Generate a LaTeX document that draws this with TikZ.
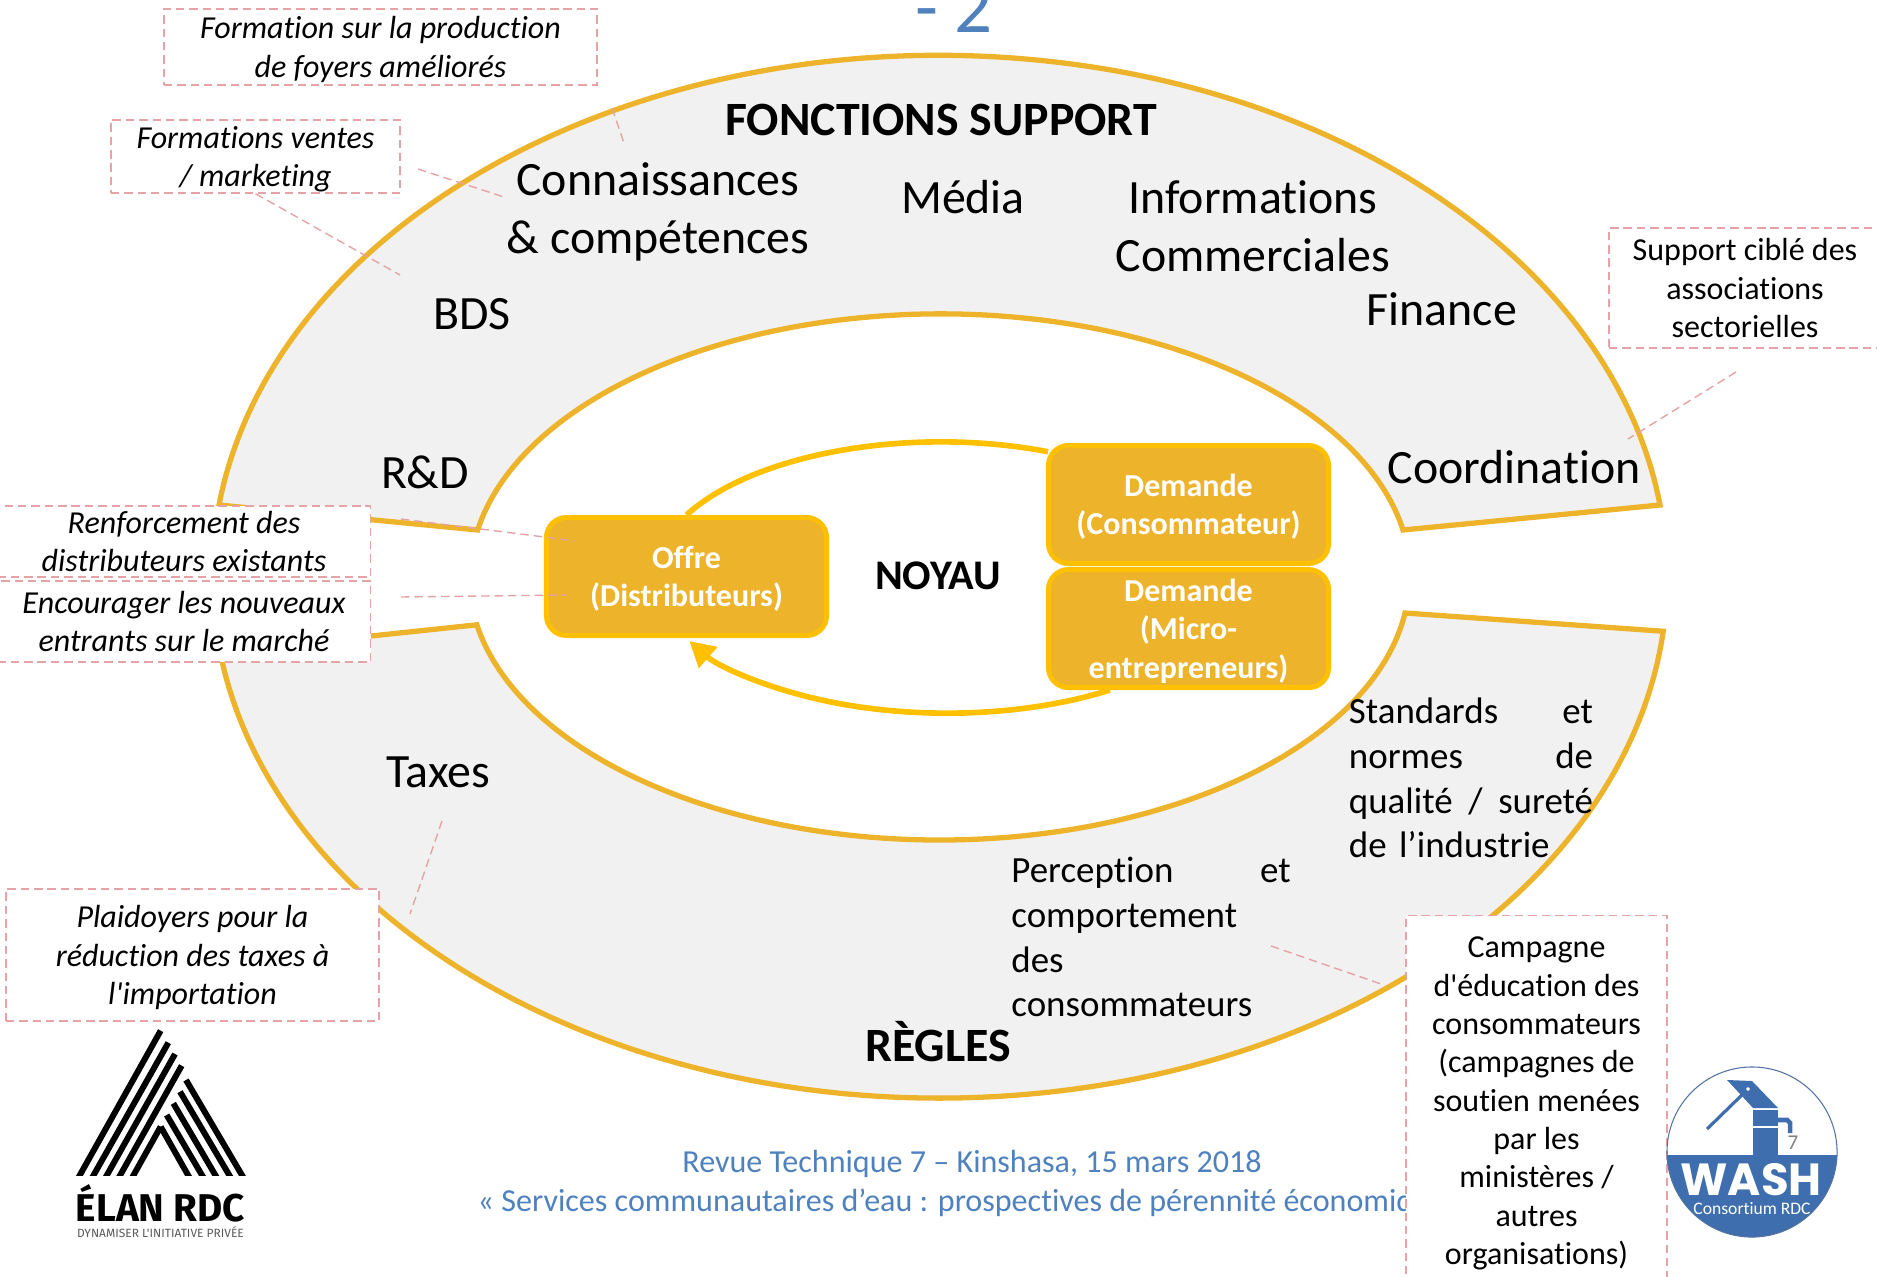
\documentclass[tikz,border=0pt]{standalone}
\usepackage{fontspec}
\setmainfont{Carlito}[Ligatures=NoCommon]
\newfontfamily\droit{Carlito}[Ligatures=NoCommon]
\newfontfamily\logofont{Poppins}
\newfontfamily\elanfont{Fira Sans}
\usetikzlibrary{arrows.meta,shapes.geometric}
\definecolor{bandeor}{HTML}{ECB32B}
\definecolor{bordor}{HTML}{FFC000}
\definecolor{bandegris}{HTML}{F1F1F1}
\definecolor{tiret}{HTML}{E6A3A6}
\definecolor{bleutitre}{HTML}{4F81BD}
\definecolor{bleuwash}{HTML}{3F6EAE}

\begin{document}
\begin{tikzpicture}[x=0.01cm,y=-0.01cm,node distance=1.24cm,bande/.style={draw=bandeor,fill=bandegris,line width=1.5pt,line join=miter},grand/.style={inner sep=0pt,font=\fontsize{13.6}{16.4}\selectfont,align=center},moyen/.style={inner sep=0pt,font=\fontsize{10.5}{12.75}\selectfont,align=left},titre/.style={inner sep=0pt,font=\fontsize{13.6}{16.4}\selectfont\bfseries},pave/.style={draw=bordor,fill=bandeor,line width=1.4pt,rounded corners=0.2cm,inner sep=0pt,text depth=0pt,minimum width=2.8cm,minimum height=1.18cm,text=white,align=center,font=\fontsize{9.1}{10.9}\selectfont\bfseries},lien/.style={draw=bordor,line width=1.6pt},note/.style={draw=tiret,fill=white,line width=0.4pt,dash pattern=on 2.4pt off 1.4pt,inner sep=0pt,text depth=0pt,align=center,font=\fontsize{9.1}{10.9}\selectfont},notei/.style={note,font=\fontsize{9.1}{10.9}\selectfont\itshape},trait/.style={draw=tiret,line width=0.4pt,dash pattern=on 2.4pt off 1.4pt},pied/.style={inner sep=0pt,text=bleutitre,font=\fontsize{9.12}{11.5}\selectfont}]
	\useasboundingbox (0,0) rectangle (1877,1276);

	\draw[bande] (219,505) arc[start angle=172.1,end angle=7.9,x radius=7.27cm,y radius=5.21cm] -- (1403,530) arc[start angle=10.3,end angle=169.7,x radius=4.7cm,y radius=2.63cm] -- cycle;
	\draw[bande] (220,652) arc[start angle=188.3,end angle=354,x radius=7.27cm,y radius=5.21cm] -- (1405,613) arc[start angle=352.1,end angle=190.5,x radius=4.7cm,y radius=2.63cm] -- cycle;

	\node[inner sep=0pt,text=bleutitre,anchor=base,font=\fontsize{21.3}{24}\selectfont] (numero) at (954,33) {- 2};
	\node[titre] (support) at (941,120) {FONCTIONS SUPPORT};
	\node[titre] (regles) at (938,1042) {RÈGLES};
	\node[titre,font=\fontsize{12}{14}\selectfont\bfseries] (noyau) at (938,576) {NOYAU};
	\node[grand] (connaissances) at (658,212) {Connaissances\\\& compétences};
	\node[grand] (media) at (963,197) {Média};
	\node[grand] (infos) at (1253,226) {Informations\\Commerciales};
	\node[grand] (finance) at (1442,309) {Finance};
	\node[grand] (bds) at (472,314) {BDS};
	\node[grand] (rd) at (425,472) {R\&D};
	\node[grand] (coordination) at (1514,467) {Coordination};
	\node[grand] (taxes) at (438,772) {Taxes};
	\node[moyen,text width=2.44cm] (standards) at (1471,778) {Standards\hfill et\\normes\hfill de\\qualité\hfill/\hfill sureté\\de l’industrie};
	\node[moyen,text width=2.79cm] (perception) at (1151,937) {Perception\hfill et\\comportement\\des\\consommateurs};

	\node[pied] (revue) at (972,1164) {Revue Technique 7 – Kinshasa, 15 mars 2018};
	\node[pied,anchor=west] (services) at (477,1203) {« Services communautaires d’eau : prospectives de pérennité économiq};

	\node[pave] (offre) at (686.5,576.5) {Offre\\(Distributeurs)};
	\node[pave] (dcons) at (1188.5,504.5) {Demande\\(Consommateur)};
	\node[pave] (dmicro) [below of=dcons] {Demande\\(Micro-\\entrepreneurs)};

	\draw[lien] (offre.north) arc[start angle=152.7,end angle=68,x radius=2.86cm,y radius=1.35cm];
	\draw[lien,-{Triangle[length=0.25cm,width=0.27cm]}] (dmicro.218) arc[start angle=304,end angle=207.8,x radius=2.91cm,y radius=1.35cm];

	\coordinate (t1a) at (612,108);
	\coordinate (t1b) at (624,143);
	\coordinate (t2a) at (418,169);
	\coordinate (t2b) at (507,198);
	\coordinate (t3b) at (400,275);
	\coordinate (t4a) at (401,519);
	\coordinate (t4b) at (576,541);
	\coordinate (t5a) at (401,597);
	\coordinate (t5b) at (567,595);
	\coordinate (t6a) at (442,821);
	\coordinate (t6b) at (410,914);
	\coordinate (t7a) at (1736,372);
	\coordinate (t7b) at (1628,439);
	\coordinate (t8a) at (1271,946);
	\coordinate (t8b) at (1384,985);

	\node[notei,minimum width=4.33cm,minimum height=0.76cm] (foyers) at (380.5,47) {Formation sur la production\\de foyers améliorés};
	\node[notei,minimum width=2.89cm,minimum height=0.73cm] (ventes) at (255.5,156.5) {Formations ventes\\/ marketing};
	\node[notei,minimum width=3.73cm,minimum height=0.71cm] (renfort) at (184,541.5) {Renforcement des\\distributeurs existants};
	\node[notei,minimum width=3.73cm,minimum height=0.81cm] (entrants) at (184,621.5) {Encourager les nouveaux\\entrants sur le marché};
	\node[notei,minimum width=3.73cm,minimum height=1.32cm] (plaidoyer) at (192.5,955) {Plaidoyers pour la\\réduction des taxes à\\l{\droit'}importation};
	\node[note,minimum width=2.72cm,minimum height=1.2cm] (cible) at (1745,288) {Support ciblé des\\associations\\sectorielles};
	\node[note,minimum width=2.61cm,minimum height=3.7cm,anchor=north] (campagne) at (1536.5,915) {Campagne\\d{\droit'}éducation des\\consommateurs\\(campagnes de\\soutien menées\\par les\\ministères /\\autres\\organisations)};

	\draw[trait] (t1a) -- (t1b);
	\draw[trait] (t2a) -- (t2b);
	\draw[trait] (ventes.south) -- (t3b);
	\draw[trait] (t4a) -- (t4b);
	\draw[trait] (t5a) -- (t5b);
	\draw[trait] (t6a) -- (t6b);
	\draw[trait] (t7a) -- (t7b);
	\draw[trait] (t8a) -- (t8b);

	\begin{scope}
		\clip (70,1020) rectangle (250,1175);
		\foreach \xa/\ya/\xb in {242/512/482,283/548/505,323/582/525,363/617/545,403/800/482}
			\draw[line width=1.7pt] ({\xa/3-11},{860+1000/3}) -- ({\xb/3},{860+\ya/3});
		\foreach \xa/\ya/\xb in {562/800/482,605/765/500,645/730/520,687/695/540,725/660/558}
			\draw[line width=1.7pt] ({\xa/3+11},{860+1000/3}) -- ({\xb/3},{860+\ya/3});
	\end{scope}
	\node[inner sep=0pt,font=\elanfont\fontsize{11}{12}\selectfont\bfseries] (elan) at (160.5,1203) {ÉLAN RDC};
	\node[inner sep=0pt,text=black!65,font=\elanfont\fontsize{3.4}{4}\selectfont] (dynamiser) at (160.5,1232) {DYNAMISER L'INITIATIVE PRIVÉE};

	\begin{scope}
		\clip (1752,1152) circle[radius=0.85cm];
		\fill[bleuwash] (1660,1155) rectangle (1840,1240);
	\end{scope}
	\draw[bleuwash!70!gray,line width=0.3pt] (1752,1152) circle[radius=0.85cm];
	\fill[bleuwash] (1727,1080) -- (1752,1081) -- (1778,1108) -- (1753,1108) -- cycle;
	\fill[bleuwash] (1753,1110) rectangle (1778,1155);
	\fill[white] (1753,1126) rectangle (1778,1128);
	\draw[bleuwash,line width=1.3pt] (1778,1120) -- (1787,1120) -- (1790,1123) -- (1790,1133);
	\draw[bleuwash,line width=0.9pt] (1707,1129) -- (1748,1089);
	\draw[bleuwash,fill=white,line width=0.6pt] (1748,1089) circle[radius=0.03cm];
	\node[inner sep=0pt,text=white,font=\logofont\fontsize{12.8}{14}\selectfont\bfseries] (wash) at (1751,1180) {WASH};
	\node[inner sep=0pt,text=white,font=\fontsize{5}{6}\selectfont] (consortium) at (1752,1208) {Consortium RDC};
	\node[inner sep=0pt,text=black!50,font=\fontsize{6}{7}\selectfont] (septieme) at (1793,1143) {7};
\end{tikzpicture}
\end{document}
